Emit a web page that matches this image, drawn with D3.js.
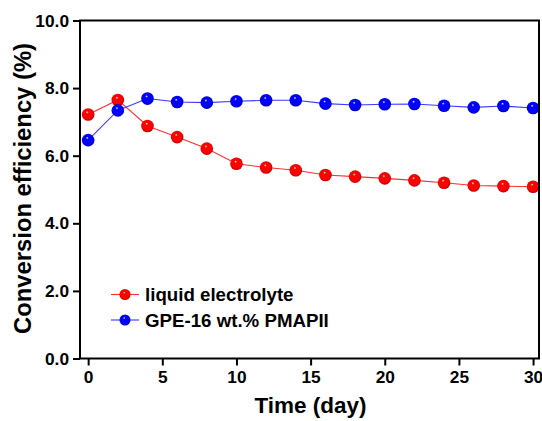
<!DOCTYPE html>
<html>
<head>
  <meta charset="UTF-8">
  <title>Conversion efficiency vs time</title>
  <script src="https://cdn.jsdelivr.net/npm/d3@7"></script>
  <style>
    body { margin: 0; background: #fff; }
    svg { display: block; font-family: Arial, "Liberation Sans", sans-serif; }
  </style>
</head>
<body>
<div id="chart"></div>
<script>
// data
var days = [0, 2, 4, 6, 8, 10, 12, 14, 16, 18, 20, 22, 24, 26, 28, 30];
var liquid = [7.22, 7.65, 6.88, 6.55, 6.21, 5.76, 5.65, 5.57, 5.43, 5.38, 5.33, 5.27, 5.20, 5.12, 5.10, 5.08];
var gpe = [6.46, 7.34, 7.69, 7.59, 7.57, 7.61, 7.64, 7.64, 7.54, 7.50, 7.52, 7.53, 7.48, 7.43, 7.47, 7.41];
var xTicks = [0, 5, 10, 15, 20, 25, 30];
var yTicks = [0, 2, 4, 6, 8, 10];
var seriesNames = ["liquid electrolyte", "GPE-16 wt.% PMAPII"];

var W = 542, H = 421;
var pL = 80, pR = 539, pT = 20.5, pB = 358.5;

var svg = d3.select("#chart").append("svg")
  .attr("width", W).attr("height", H);

var x = d3.scaleLinear().domain([-0.55, 30.4]).range([pL, pR]);
var y = d3.scaleLinear().domain([0, 10]).range([pB, pT]);

// sphere-like gradients for the markers
var defs = svg.append("defs");
function ball(id, base, dark) {
  var g = defs.append("radialGradient").attr("id", id)
    .attr("cx", "50%").attr("cy", "50%").attr("r", "55%")
    .attr("fx", "42%").attr("fy", "30%");
  g.append("stop").attr("offset", "0%").attr("stop-color", "#ffffff");
  g.append("stop").attr("offset", "20%").attr("stop-color", base);
  g.append("stop").attr("offset", "72%").attr("stop-color", base);
  g.append("stop").attr("offset", "100%").attr("stop-color", dark);
}
ball("ballRed", "#ff0000", "#a80000");
ball("ballBlue", "#0000ff", "#0000a0");

var series = [
  { name: seriesNames[0], values: liquid, line: "#ff3030", fill: "url(#ballRed)" },
  { name: seriesNames[1], values: gpe, line: "#3a3aff", fill: "url(#ballBlue)" }
];

var line = d3.line().x(function(d) { return x(d[0]); }).y(function(d) { return y(d[1]); });

series.forEach(function(s) {
  var pts = days.map(function(d, i) { return [d, s.values[i]]; });
  svg.append("path").datum(pts)
    .attr("d", line)
    .attr("fill", "none")
    .attr("stroke", s.line)
    .attr("stroke-width", 1.1);
  svg.selectAll(null).data(pts).enter().append("circle")
    .attr("cx", function(d) { return x(d[0]); })
    .attr("cy", function(d) { return y(d[1]); })
    .attr("r", 6.3)
    .attr("fill", s.fill);
});

// frame
svg.append("rect")
  .attr("x", pL).attr("y", pT)
  .attr("width", pR - pL).attr("height", pB - pT)
  .attr("fill", "none").attr("stroke", "#000").attr("stroke-width", 2);

// axes
var xAxis = d3.axisBottom(x).tickValues(xTicks).tickSize(7).tickPadding(5).tickSizeOuter(0);
var gx = svg.append("g").attr("transform", "translate(0," + pB + ")").call(xAxis);
var yAxis = d3.axisLeft(y).tickValues(yTicks).tickFormat(d3.format(".1f")).tickSize(7).tickPadding(4).tickSizeOuter(0);
var gy = svg.append("g").attr("transform", "translate(" + pL + ",0)").call(yAxis);

[gx, gy].forEach(function(g) {
  g.select(".domain").remove();
  g.selectAll(".tick line").attr("stroke", "#000").attr("stroke-width", 2);
  g.selectAll(".tick text")
    .attr("fill", "#000")
    .style("font-size", "17.3px")
    .style("font-weight", "bold")
    .style("font-family", "Arial, 'Liberation Sans', sans-serif");
});

// axis titles
svg.append("text")
  .attr("x", (pL + pR) / 2 + 1).attr("y", 413)
  .attr("text-anchor", "middle")
  .style("font-size", "22.5px").style("font-weight", "bold")
  .text("Time (day)");

svg.append("text")
  .attr("transform", "translate(30.5," + 188.5 + ") rotate(-90)")
  .attr("text-anchor", "middle")
  .style("font-size", "23.8px").style("font-weight", "bold")
  .text("Conversion efficiency (%)");

// legend
var legend = svg.append("g");
series.forEach(function(s, i) {
  var ly = 294.5 + i * 25.5;
  legend.append("line")
    .attr("x1", 111).attr("x2", 139).attr("y1", ly).attr("y2", ly)
    .attr("stroke", s.line).attr("stroke-width", 1.1);
  legend.append("circle")
    .attr("cx", 125).attr("cy", ly).attr("r", 5.5).attr("fill", s.fill);
  legend.append("text")
    .attr("x", 145).attr("y", ly + 6.5)
    .style("font-size", "18.7px").style("font-weight", "bold")
    .text(s.name);
});
</script>
</body>
</html>
